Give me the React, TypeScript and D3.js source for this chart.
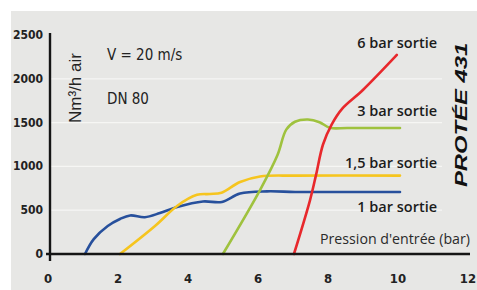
import React from "react";
import * as d3 from "d3";

const W = 477;
const H = 290;

const xTicks = [0, 2, 4, 6, 8, 10, 12];
const yTicks = [0, 500, 1000, 1500, 2000, 2500];
const gridValues = [500, 1000, 1500, 2000];

// 1 bar sortie
const blueX = [1.0, 1.25, 1.65, 2.0, 2.29, 2.71, 3.14, 3.63, 4.37, 4.91, 5.43, 6.2, 7.0, 8.0, 10.0];
const blueY = [0, 170, 320, 400, 440, 420, 468, 537, 600, 594, 690, 715, 708, 708, 708];
// 1,5 bar sortie
const yellowX = [2.0, 3.0, 3.63, 4.2, 4.57, 4.9, 5.43, 6.0, 7.0, 10.0];
const yellowY = [0, 320, 548, 675, 685, 700, 822, 885, 895, 895];
// 3 bar sortie
const greenX = [4.94, 6.0, 6.5, 6.75, 7.0, 7.37, 7.7, 8.0, 8.5, 10.0];
const greenY = [0, 730, 1130, 1420, 1510, 1535, 1505, 1440, 1438, 1438];
// 6 bar sortie
const redX = [6.97, 7.43, 7.6, 7.8, 8.05, 8.35, 8.94, 9.91];
const redY = [0, 616, 900, 1250, 1480, 1660, 1872, 2272];

const seriesNames = ["1 bar sortie", "1,5 bar sortie", "3 bar sortie", "6 bar sortie"];
const seriesColors = ["#27509c", "#f6c51e", "#9fc23e", "#e8282c"];

const x = d3.scaleLinear().domain([0, 12]).range([50, 470]);
const y = d3.scaleLinear().domain([0, 2500]).range([254, 35]);

const zip = (xs: number[], ys: number[]) => xs.map((v, i) => [v, ys[i]] as [number, number]);

const line = d3
  .line<[number, number]>()
  .x((d) => x(d[0]))
  .y((d) => y(d[1]))
  .curve(d3.curveCatmullRom.alpha(0.5));

const series = [
  zip(blueX, blueY),
  zip(yellowX, yellowY),
  zip(greenX, greenY),
  zip(redX, redY),
];

const labelFont = "'Liberation Sans Narrow', 'DejaVu Sans Condensed', 'Liberation Sans', sans-serif";
const curveFont = "'Open Sans', 'Liberation Sans', sans-serif";

// label anchor (end) positions in data units
const labelPos: [number, number][] = [
  [11.06, 480],
  [11.06, 985],
  [11.06, 1580],
  [11.06, 2355],
];

export default function App() {
  return (
    <svg
      width={W}
      height={H}
      style={{ position: "absolute", left: 0, top: 0, display: "block" }}
    >
      <rect x={0} y={0} width={W} height={H} fill="#ffffff" />
      <rect x={11} y={11} width={W - 11} height={H - 11} fill="#e7e7e5" />

      {gridValues.map((v) => (
        <line
          key={v}
          x1={x(0)}
          x2={442}
          y1={y(v)}
          y2={y(v)}
          stroke="#f6f6f4"
          strokeWidth={1.3}
        />
      ))}

      {series.map((s, i) => (
        <path
          key={i}
          d={line(s) || ""}
          fill="none"
          stroke={seriesColors[i]}
          strokeWidth={2.6}
          strokeLinecap="round"
        />
      ))}

      {/* axes */}
      <line x1={x(0)} x2={x(0)} y1={33} y2={261} stroke="#151515" strokeWidth={2.4} />
      <line x1={46} x2={x(12)} y1={y(0)} y2={y(0)} stroke="#151515" strokeWidth={2.4} />

      {yTicks.map((v) => (
        <text
          key={v}
          x={43}
          y={y(v) + 4}
          textAnchor="end"
          fontFamily={labelFont}
          fontWeight="bold"
          fontSize={12}
          fill="#222"
        >
          {v}
        </text>
      ))}
      {xTicks.map((v) => (
        <text
          key={v}
          x={x(v) - 2}
          y={283}
          textAnchor="middle"
          fontFamily={labelFont}
          fontWeight="bold"
          fontSize={13}
          fill="#222"
        >
          {v}
        </text>
      ))}

      <text x={107} y={60} fontFamily={labelFont} fontSize={15} fill="#222">
        V = 20 m/s
      </text>
      <text x={107} y={104} fontFamily={labelFont} fontSize={15} fill="#222">
        DN 80
      </text>
      <text
        transform="translate(81,123) rotate(-90)"
        fontFamily="'Liberation Sans', sans-serif"
        fontSize={17}
        fill="#222"
      >
        Nm³/h air
      </text>

      {seriesNames.map((n, i) => (
        <text
          key={n}
          x={x(labelPos[i][0])}
          y={y(labelPos[i][1])}
          textAnchor="end"
          fontFamily={curveFont}
          fontWeight={600}
          fontSize={14.5}
          fill="#1c1c1c"
        >
          {n}
        </text>
      ))}
      <text
        x={470}
        y={244}
        textAnchor="end"
        fontFamily={curveFont}
        fontSize={14.2}
        fill="#2a2a2a"
      >
        Pression d'entrée (bar)
      </text>

      <text
        transform="translate(467,187) rotate(-90) scale(1.4,1)"
        fontFamily="'Liberation Sans', 'DejaVu Sans', sans-serif"
        fontWeight="bold"
        fontStyle="italic"
        fontSize={17}
        fill="#111"
      >
        PROTÉE 431
      </text>
    </svg>
  );
}
